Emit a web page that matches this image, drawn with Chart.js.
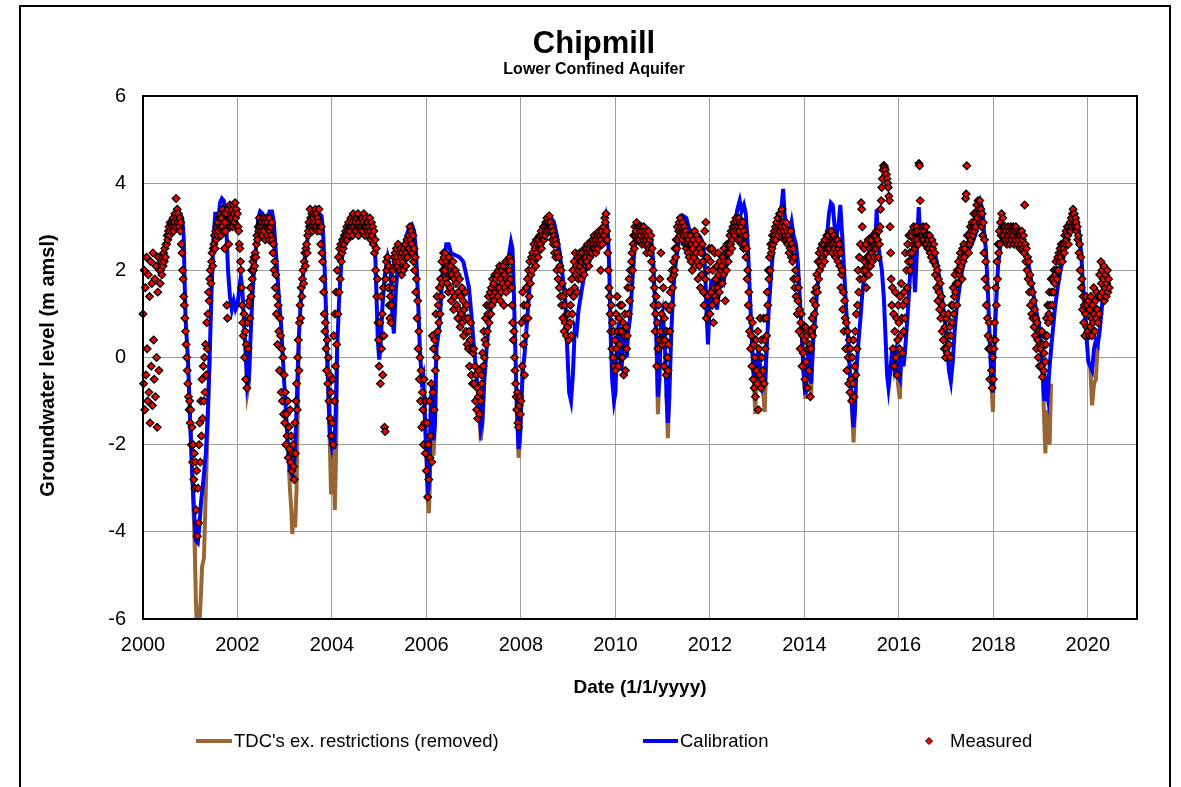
<!DOCTYPE html>
<html><head><meta charset="utf-8">
<script src="https://cdn.jsdelivr.net/npm/chart.js@4.4.1/dist/chart.umd.min.js"></script>
<style>html,body{margin:0;padding:0;background:#fff}#wrap{width:1181px;height:787px}</style>
</head><body><div id="wrap"><canvas id="c" width="1181" height="787"></canvas></div>
<script>
const chartTitle = "Chipmill";
const chartSubtitle = "Lower Confined Aquifer";
const xAxisTitle = "Date (1/1/yyyy)";
const yAxisTitle = "Groundwater level (m amsl)";
const seriesNames = ["TDC's ex. restrictions (removed)", "Calibration", "Measured"];
const xTickYears = [2000,2002,2004,2006,2008,2010,2012,2014,2016,2018,2020];
const yTickValues = [-6,-4,-2,0,2,4,6];

// Calibration (decimal year, m amsl)
const calDates = [
2000.30,2000.40,2000.47,2000.52,2000.58,2000.65,2000.72,2000.78,2000.83,2000.86,2000.88,2000.90,2000.95,
2001.00,2001.04,2001.08,2001.12,2001.16,2001.19,2001.23,2001.28,2001.33,2001.37,2001.41,2001.45,2001.49,2001.53,2001.57,2001.60,2001.63,2001.67,2001.71,2001.74,2001.77,2001.80,2001.84,2001.88,2001.92,2001.96,
2002.00,2002.04,2002.07,2002.10,2002.13,2002.17,2002.21,2002.24,2002.27,2002.31,2002.35,2002.40,2002.44,2002.48,2002.53,2002.58,2002.63,2002.68,2002.73,2002.77,2002.80,2002.84,2002.88,2002.92,2002.96,
2003.00,2003.04,2003.08,2003.12,2003.16,2003.20,2003.23,2003.27,2003.30,2003.34,2003.39,2003.44,2003.48,2003.52,2003.58,2003.65,2003.72,2003.78,2003.81,2003.84,2003.87,2003.90,2003.93,2003.96,2003.99,
2004.02,2004.05,2004.08,2004.11,2004.15,2004.20,2004.26,2004.32,2004.40,2004.50,2004.60,2004.70,2004.80,2004.87,2004.91,2004.94,2004.97,
2005.00,2005.03,2005.07,2005.12,2005.18,2005.24,2005.28,2005.31,2005.35,2005.40,2005.46,2005.52,2005.58,2005.64,2005.69,2005.74,2005.78,2005.82,2005.86,2005.90,2005.93,2005.96,
2006.00,2006.03,2006.06,2006.09,2006.12,2006.15,2006.18,2006.21,2006.25,2006.29,2006.33,2006.37,2006.42,2006.47,2006.52,2006.60,2006.70,2006.78,2006.84,2006.90,2006.95,
2007.00,2007.05,2007.10,2007.15,2007.18,2007.22,2007.28,2007.34,2007.40,2007.46,2007.52,2007.60,2007.68,2007.74,2007.79,2007.82,2007.85,2007.88,2007.91,2007.95,2007.98,
2008.01,2008.04,2008.07,2008.10,2008.14,2008.18,2008.22,2008.28,2008.34,2008.40,2008.46,2008.52,2008.58,2008.64,2008.70,2008.76,2008.82,2008.88,2008.94,2008.98,
2009.02,2009.06,2009.10,2009.14,2009.18,2009.22,2009.28,2009.34,2009.40,2009.48,2009.56,2009.64,2009.70,2009.75,2009.80,2009.84,2009.87,2009.90,2009.93,2009.97,
2010.00,2010.03,2010.07,2010.10,2010.13,2010.16,2010.20,2010.24,2010.27,2010.31,2010.35,2010.39,2010.43,2010.48,2010.55,2010.62,2010.70,2010.76,2010.80,2010.84,2010.87,2010.90,2010.93,2010.97,
2011.00,2011.04,2011.08,2011.11,2011.14,2011.18,2011.22,2011.27,2011.32,2011.38,2011.43,2011.50,2011.56,2011.64,2011.72,2011.80,2011.86,2011.90,2011.93,2011.96,2011.99,
2012.03,2012.07,2012.11,2012.15,2012.20,2012.25,2012.30,2012.35,2012.40,2012.46,2012.52,2012.58,2012.63,2012.67,2012.72,2012.76,2012.80,2012.84,2012.88,2012.92,2012.96,2012.99,
2013.03,2013.07,2013.12,2013.16,2013.20,2013.25,2013.30,2013.36,2013.42,2013.48,2013.52,2013.55,2013.58,2013.63,2013.68,2013.73,2013.77,2013.82,2013.86,2013.90,2013.94,2013.98,
2014.02,2014.06,2014.10,2014.14,2014.18,2014.22,2014.26,2014.30,2014.36,2014.42,2014.48,2014.52,2014.56,2014.60,2014.64,2014.68,2014.72,2014.76,2014.80,2014.84,2014.88,2014.92,2014.96,
2015.00,2015.04,2015.07,2015.10,2015.14,2015.18,2015.22,2015.27,2015.32,2015.38,2015.44,2015.50,2015.53,2015.56,2015.60,2015.64,2015.68,2015.72,2015.75,2015.78,2015.82,2015.86,2015.90,2015.94,2015.98,
2016.02,2016.06,2016.10,2016.14,2016.18,2016.22,2016.26,2016.30,2016.34,2016.38,2016.42,2016.45,2016.50,2016.58,2016.66,2016.74,2016.80,2016.86,2016.92,2016.97,
2017.02,2017.06,2017.10,2017.14,2017.18,2017.22,2017.27,2017.32,2017.38,2017.45,2017.52,2017.58,2017.64,2017.69,2017.73,2017.77,2017.80,2017.84,2017.88,2017.92,2017.96,2017.99,
2018.02,2018.06,2018.10,2018.15,2018.20,2018.28,2018.36,2018.44,2018.52,2018.60,2018.66,2018.72,2018.78,2018.84,2018.90,2018.96,
2019.00,2019.04,2019.08,2019.11,2019.15,2019.19,2019.24,2019.30,2019.36,2019.42,2019.48,2019.54,2019.60,2019.66,2019.72,2019.77,2019.82,2019.86,2019.89,2019.93,2019.97,
2020.01,2020.05,2020.09,2020.13,2020.17,2020.21,2020.25,2020.30,2020.35,2020.40
];
const calLevels = [
2.0,2.3,2.5,2.7,3.05,3.15,3.25,3.3,3.2,2.8,1.8,0.9,0.0,
-1.5,-2.6,-3.5,-4.2,-4.25,-3.9,-3.3,-2.8,-2.2,-1.3,0.0,1.5,2.7,3.3,3.3,3.2,3.55,3.65,3.6,3.4,2.8,2.0,1.4,1.1,1.3,1.1,
1.2,1.6,1.85,1.6,1.0,0.2,-0.65,-0.5,0.3,1.3,2.0,2.6,3.2,3.35,3.3,3.1,3.15,3.35,3.35,3.1,2.6,2.0,1.3,0.8,0.0,
-0.8,-1.5,-2.2,-2.6,-2.7,-2.5,-1.8,-0.5,0.5,1.3,1.9,2.4,2.7,3.1,3.3,3.35,3.3,3.25,2.9,2.2,1.2,0.0,-1.0,-1.8,-2.0,
-1.7,-2.1,-1.2,0.2,1.3,2.2,2.6,2.8,3.0,3.05,3.1,3.1,3.0,2.9,2.6,1.5,0.4,
-0.05,0.3,1.2,1.9,2.3,2.0,0.9,0.55,1.5,2.2,2.3,2.5,2.8,3.0,3.05,2.9,2.4,1.4,0.2,-0.5,-0.4,-1.2,
-2.2,-3.1,-2.8,-1.2,-0.6,-1.9,-1.5,0.2,0.5,1.0,1.8,2.2,2.6,2.6,2.4,2.35,2.3,2.2,1.9,1.6,1.0,
0.3,-0.3,-0.9,-1.65,-1.5,-0.6,0.3,1.0,1.4,1.8,2.0,2.1,2.2,2.3,2.65,2.5,1.5,0.2,-1.0,-2.1,-1.8,
-1.0,-0.3,0.0,0.4,1.0,1.6,1.95,2.1,2.3,2.5,2.7,2.95,3.15,3.2,3.1,2.8,2.4,1.9,1.3,0.2,
-0.8,-1.0,-0.4,0.7,0.6,1.1,1.5,1.9,2.1,2.3,2.5,2.6,2.7,2.9,3.2,2.9,2.0,0.5,-0.5,-1.0,
-0.8,0.3,0.8,0.2,-0.3,0.4,0.8,0.0,0.6,0.9,1.6,2.3,2.8,3.0,2.9,2.85,2.85,2.7,2.2,1.2,0.3,-0.9,-0.5,0.8,
1.0,0.5,-0.8,-1.5,-0.9,0.5,1.5,2.1,2.5,3.0,3.25,3.2,2.95,2.85,2.8,2.75,2.6,2.0,1.0,0.3,1.2,
1.8,1.3,1.8,1.1,1.6,2.0,1.8,2.2,2.4,2.6,3.0,3.4,3.6,3.35,3.5,3.3,2.6,1.6,0.6,-0.3,-0.7,-0.2,
0.2,-0.3,-0.7,-0.6,0.2,1.2,2.0,2.7,2.95,3.1,3.5,3.87,3.3,2.9,2.8,3.1,2.8,2.6,2.2,1.4,0.6,-0.3,
-0.85,-0.2,0.3,-0.6,0.3,0.8,1.4,1.9,2.2,2.5,2.8,3.3,3.55,3.5,3.0,2.8,3.0,3.5,2.8,2.0,1.2,0.5,-0.3,
-1.0,-1.6,-1.2,-0.3,0.3,0.8,1.4,1.9,2.2,2.5,2.7,2.6,3.4,2.6,2.3,2.0,1.4,0.4,-0.4,-0.7,-0.3,0.2,-0.2,0.1,-0.4,
-0.5,0.2,-0.2,0.3,0.9,1.6,2.3,2.5,1.5,2.4,3.45,2.8,2.7,2.65,2.6,2.5,2.2,1.8,1.3,0.9,
0.3,-0.3,-0.55,-0.1,0.6,1.1,1.5,1.9,2.2,2.4,2.55,2.7,2.9,3.3,3.55,3.4,2.9,2.5,1.6,0.5,-0.6,-0.8,
0.2,1.3,2.1,2.6,2.8,2.85,2.8,2.75,2.8,2.75,2.6,2.3,1.9,1.5,1.1,0.8,
0.4,-0.3,-1.0,-0.6,-0.9,-0.2,0.4,1.1,1.6,2.0,2.3,2.6,2.9,3.1,3.25,3.2,2.8,2.4,1.8,1.2,0.5,
-0.1,-0.2,-0.3,0.2,0.4,0.3,0.6,1.2,1.7,1.6
];

// TDC's ex. restrictions (removed): only where it departs from calibration (null = break)
const tdcDates = [
2001.00,2001.04,2001.08,2001.10,2001.12,2001.14,2001.19,2001.22,2001.25,2001.29,2001.32,2001.36,2001.41,2001.42,
2002.17,2002.21,2002.24,2002.27,2002.28,
2003.04,2003.08,2003.11,2003.14,2003.16,2003.19,2003.22,2003.25,2003.28,2003.30,2003.31,
2003.90,2003.93,2003.96,2003.98,2004.00,2004.02,2004.04,2004.06,2004.09,2004.11,2004.12,
2005.96,2006.00,2006.03,2006.05,2006.07,2006.09,2006.12,2006.15,2006.18,2006.21,2006.22,
2007.10,2007.15,2007.18,2007.22,2007.23,
2007.91,2007.95,2007.98,2008.01,2008.02,
2010.87,2010.90,2010.93,2010.94,
2011.08,2011.11,2011.14,2011.15,
2012.92,2012.96,2012.99,2013.00,
2013.12,2013.16,2013.20,2013.21,
2013.98,2014.02,2014.06,2014.07,
2014.10,2014.14,2014.18,2014.19,
2015.00,2015.04,2015.07,2015.08,
2015.94,2015.98,2016.02,2016.06,2016.07,
2017.96,2017.99,2018.02,2018.03,
2019.04,2019.08,2019.10,2019.13,2019.16,2019.19,2019.22,2019.23,
2020.05,2020.09,2020.13,2020.17,2020.21
];
const tdcLevels = [
-1.5,-2.6,-3.8,-4.6,-5.6,-6.2,-6.2,-5.6,-4.8,-4.6,-3.4,-1.9,0.0,null,
0.2,-0.8,-0.6,0.3,null,
-1.5,-2.3,-3.0,-3.5,-4.05,-3.6,-3.9,-3.0,-1.0,0.5,null,
0.0,-1.0,-2.2,-3.1,-2.2,-1.9,-2.6,-3.5,-2.0,0.2,null,
-1.2,-2.3,-3.3,-3.57,-3.0,-1.2,-0.6,-2.25,-1.5,0.2,null,
-0.9,-1.9,-1.6,-0.6,null,
-1.0,-2.3,-1.9,-1.0,null,
0.3,-1.3,-0.5,null,
-0.8,-1.85,-0.9,null,
-0.3,-1.3,-0.2,null,
-0.7,-1.25,0.2,null,
-0.3,-0.95,-0.2,null,
0.3,-0.9,0.3,null,
-1.0,-1.95,-1.2,null,
0.1,-0.6,-0.95,0.2,null,
-0.6,-1.25,0.2,null,
-0.3,-1.6,-2.2,-1.2,-1.5,-2.0,-0.6,null,
-0.2,-1.1,-0.6,-0.5,0.3
];

// Measured: one reading every 1/80 yr from 1/1/2000
const measuredFirstYear = 2000;
const measuredPerYear = 80;
const measured2000 = [1.0,-0.6,2.0,-1.2,1.6,-0.4,2.3,0.2,-1.0,1.9, -0.8,1.4,-1.5,2.2,-0.2,1.7,-1.1,2.4,0.4,-0.5, 1.8,-0.9,2.1,0.0,-1.6,1.5,2.3,-0.3,2.0,1.7, 2.0,2.2,1.9,2.3,2.1,2.4,2.2,2.5,2.3,2.6,
 2.6,2.8,2.7,2.9,3.0,2.8,3.1,2.9,3.05,3.1, 3.0,3.2,2.9,3.1,3.3,3.0,3.65,3.2,3.4,3.1, 3.3,3.0,3.2,2.9,3.1,2.6,2.4,2.0,1.8,1.4, 1.2,0.9,0.6,0.3,0.0,-0.3,-0.6,-0.9,-1.2,-1.0];
const measured2001 = [-1.5,-1.2,-2.0,-1.6,-2.4,-2.0,-2.8,-2.2,-3.0,-2.4, -3.5,-2.6,-4.1,-3.0,-3.8,-2.0,-1.5,-2.4,-1.0,-1.8, -0.5,-1.4,-0.2,-1.0,0.0,-0.8,0.3,-0.4,0.8,0.2, 1.0,1.5,1.3,1.8,2.0,1.7,2.2,2.4,2.1,2.5,
 2.6,2.8,2.5,2.9,2.7,3.0,2.8,3.1,2.9,3.2, 3.0,3.3,2.8,3.2,3.0,3.4,2.9,3.3,2.5,3.1, 2.9,3.3,1.2,0.9,3.4,2.6,3.2,3.5,3.0,3.3, 3.2,3.4,3.0,3.5,3.3,3.1,3.55,3.2,3.4,3.0];
const measured2002 = [3.3,3.0,2.9,2.6,2.5,2.2,2.0,1.6,1.2,0.8, 0.5,1.0,0.0,0.6,-0.5,0.3,-0.7,0.8,0.2,1.2, 1.3,0.9,1.6,1.4,2.0,1.8,2.2,2.0,2.3,2.1, 2.4,2.3,2.6,2.8,2.7,3.0,2.9,3.2,3.0,3.1,
 2.9,3.1,2.8,3.0,3.2,2.9,3.1,2.7,3.0,3.2, 2.8,3.1,3.0,2.7,3.2,2.9,3.0,2.8,3.1,2.7, 2.4,2.6,2.0,2.2,1.6,1.9,1.0,1.4,0.3,1.2, 0.6,-0.3,0.9,0.5,-0.8,0.2,-1.0,0.0,-1.3,-0.4];
const measured2003 = [-1.5,-0.8,-2.0,-1.3,-1.8,-1.0,-2.3,-1.6,-2.1,-1.2, -2.4,-1.8,-2.6,-2.2,-2.0,-2.5,-2.8,-1.5,-2.2,-1.0, -0.6,-1.2,0.0,0.4,-0.3,0.8,1.2,0.9,1.6,1.4, 1.8,2.0,1.7,2.2,2.4,2.1,2.5,2.6,2.4,2.8,
 2.9,3.1,3.0,3.4,3.2,3.0,3.3,2.9,3.2,3.0, 3.3,3.1,3.4,3.0,3.3,2.9,3.2,3.1,3.4,3.0, 2.9,2.6,3.0,2.4,2.2,1.8,1.5,1.0,0.6,0.8, 0.2,-0.3,0.4,-0.6,0.0,-1.0,-0.4,-1.4,-0.8,-1.8];
const measured2004 = [-1.5,-0.5,-2.0,0.5,-1.0,1.0,-0.2,1.5,0.3,2.0, 1.0,2.3,1.5,2.5,1.8,2.6,2.2,2.4,2.7,2.5, 2.6,2.8,2.7,2.9,2.8,3.0,2.7,2.9,3.1,2.8, 3.0,2.9,3.2,3.0,3.1,2.8,3.3,3.0,3.2,2.9,
 3.1,2.9,3.2,3.0,3.3,2.8,3.1,3.0,3.2,2.9, 3.0,3.2,2.9,3.1,3.3,3.0,2.8,3.2,3.0,3.1, 2.9,3.1,2.8,3.0,3.2,2.9,2.7,3.1,2.8,3.0, 2.6,2.9,2.4,2.7,2.0,2.5,1.4,1.8,0.8,0.4];
const measured2005 = [-0.2,0.8,-0.6,1.4,0.2,1.0,-0.4,1.6,0.5,-1.6, -1.7,1.8,2.2,2.0,2.3,1.6,2.1,1.2,0.9,1.4, 0.8,1.2,1.6,2.0,1.8,2.3,2.1,2.4,2.2,2.5, 2.3,2.1,2.6,2.2,2.4,2.0,2.5,2.3,1.9,2.4,
 2.2,2.0,2.5,2.3,2.6,2.1,2.4,2.7,2.3,2.5, 2.8,2.5,3.0,2.7,2.9,2.6,2.4,2.8,2.2,2.5, 2.0,2.3,1.5,1.8,0.9,1.3,0.2,0.6,-0.5,0.0, -1.0,-0.3,-1.6,-0.8,-1.2,-2.0,-0.5,-1.5,-2.2,-1.0];
const measured2006 = [-2.6,-1.5,-3.2,-2.0,-2.8,-1.0,-2.3,-1.8,-0.6,-2.4, 0.5,-0.8,0.2,-1.2,0.4,-0.3,1.0,0.0,1.4,0.6, 1.2,0.8,1.6,1.0,1.8,1.4,2.2,1.7,2.0,2.4, 2.3,2.0,2.4,1.8,2.2,1.7,2.1,1.5,2.3,1.9,
 1.6,2.1,1.3,1.9,1.5,2.2,1.1,1.8,1.4,2.0, 1.7,1.2,1.9,0.9,1.5,1.1,1.8,0.7,1.4,1.0, 1.6,0.8,1.3,0.5,1.1,0.9,1.5,0.6,1.2,0.3, 0.9,0.2,0.6,-0.2,0.4,0.8,-0.4,0.2,-0.6,0.1];
const measured2007 = [0.2,-0.6,-0.2,-1.0,-0.4,-1.2,-0.7,-1.4,-0.9,-0.3, -1.3,-0.8,-1.0,-0.4,-0.6,0.1,-0.2,0.6,0.0,0.4, 0.9,0.3,1.2,0.6,1.0,1.4,0.8,1.2,1.5,1.0, 1.6,1.2,1.8,1.4,1.7,1.3,1.9,1.5,1.8,1.6,
 1.9,1.4,2.0,1.6,2.1,1.3,1.8,1.5,2.0,1.7, 2.1,1.2,1.9,1.6,2.2,1.5,1.8,2.0,1.7,2.2, 2.0,2.3,1.8,2.2,1.6,1.2,0.8,0.4,0.6,0.0, -0.3,-0.6,-0.9,-1.2,-0.8,-1.5,-1.6,-1.1,-0.9,-1.3];
const measured2008 = [-1.0,0.8,-0.2,1.5,0.3,1.2,-0.4,0.9,0.5,1.6, 1.2,1.8,0.9,2.0,1.4,2.2,1.7,1.9,2.3,2.0, 2.4,2.2,2.6,2.3,2.5,2.1,2.7,2.4,2.6,2.3, 2.7,2.5,2.8,2.6,2.9,2.5,2.8,2.7,3.0,2.7,
 3.0,2.8,3.1,2.9,3.2,3.0,3.1,2.9,3.25,3.0, 3.1,2.9,3.0,2.7,2.9,2.6,2.8,2.4,2.7,2.3, 2.6,2.0,2.4,1.8,2.3,1.6,2.1,1.4,2.0,1.2, 1.7,0.9,1.4,0.6,1.2,0.8,1.5,0.5,1.0,0.7];
const measured2009 = [1.0,0.4,1.5,0.8,1.2,0.5,1.8,1.0,2.0,1.4, 2.2,1.6,2.4,1.9,2.1,1.5,2.3,1.8,2.0,2.4, 2.1,2.3,1.8,2.2,2.4,2.0,2.3,1.9,2.5,2.2, 2.3,2.5,2.2,2.6,2.4,2.1,2.5,2.3,2.6,2.4,
 2.4,2.7,2.5,2.6,2.8,2.5,2.7,2.4,2.6,2.8, 2.5,2.7,2.9,2.6,2.8,2.0,2.7,2.9,2.6,2.8, 3.0,2.8,3.2,3.1,3.3,2.9,2.7,2.4,2.0,1.6, 1.4,1.0,0.6,1.2,0.2,0.8,0.0,0.6,-0.2,0.4];
const measured2010 = [-0.3,1.0,0.2,1.4,0.6,-0.2,0.9,0.3,1.2,0.0, 0.6,1.2,0.0,0.8,-0.4,0.5,1.0,-0.3,0.7,0.2, 0.5,1.6,1.0,1.8,1.3,2.0,1.6,2.2,2.4,2.0, 2.6,2.8,2.5,3.0,2.8,2.9,3.1,2.7,3.0,2.8,
 3.0,2.7,2.9,2.8,3.0,2.6,2.9,2.7,3.0,2.8, 2.6,2.9,2.7,2.4,2.8,2.6,2.9,2.5,2.7,2.4, 2.8,2.2,2.5,1.8,2.0,1.2,1.6,0.6,1.0,1.4, -0.2,0.8,0.2,1.2,0.4,1.8,0.6,2.4,1.0,0.3];
const measured2011 = [0.4,1.6,-0.2,0.9,0.4,1.2,-0.4,0.6,0.0,-0.3, 0.3,1.1,0.6,1.5,1.8,1.2,2.0,1.6,2.2,1.9, 2.0,2.5,2.3,2.7,2.5,3.0,2.7,2.9,3.1,2.8, 3.2,2.9,3.0,2.7,3.1,2.9,2.8,3.0,2.6,2.9,
 2.5,2.8,2.6,2.4,2.7,2.3,2.6,2.8,2.2,2.6, 2.0,2.5,2.7,2.3,2.9,2.1,2.6,2.4,2.8,2.2, 1.8,2.7,2.1,2.5,1.6,2.4,1.9,2.6,2.2,1.5, 1.2,2.9,1.8,3.1,0.9,2.3,1.4,2.0,1.0,2.5];
const measured2012 = [1.0,2.2,1.5,2.5,1.2,2.0,0.8,1.6,2.4,1.4, 1.8,1.3,2.1,1.6,2.4,1.9,1.5,2.2,1.7,2.0, 2.1,1.7,2.3,1.9,2.5,2.2,1.3,2.4,2.0,2.6, 2.4,2.2,2.6,2.4,2.8,2.6,2.9,2.5,2.7,3.0,
 2.9,3.1,2.8,3.0,3.2,2.9,3.1,2.7,3.0,3.2, 2.9,3.1,2.7,3.0,2.6,2.8,3.1,2.5,2.9,2.6, 2.8,2.3,2.5,1.8,2.0,1.2,1.5,0.6,0.9,0.2, 0.5,-0.2,0.8,-0.5,0.3,-0.7,0.0,-0.9,0.4,-0.3];
const measured2013 = [-0.6,0.6,-1.2,0.2,-0.4,0.9,-0.7,0.4,0.0,-0.5, -0.3,0.9,-0.6,0.4,0.2,0.9,0.5,1.5,1.2,2.0, 1.8,2.3,2.0,2.6,2.4,2.5,2.8,2.6,2.7,2.9, 2.8,3.0,2.7,3.1,2.9,3.2,2.8,3.0,3.3,2.9,
 3.3,3.0,3.4,2.8,3.1,2.9,2.7,3.0,2.8,3.1, 2.7,2.9,2.6,2.8,2.4,2.7,2.5,2.9,2.3,2.6, 2.2,2.5,1.8,2.3,1.6,2.0,1.4,1.8,1.0,1.3, 1.6,0.6,1.1,0.2,0.8,1.0,-0.2,0.5,0.1,0.7];
const measured2014 = [0.4,-0.5,0.7,-0.1,0.5,-0.7,0.2,0.6,-0.3,0.3, -0.9,0.2,0.6,0.9,0.5,1.3,0.7,1.0,1.5,1.2, 1.6,1.9,1.5,2.2,1.8,2.4,2.0,2.2,2.5,2.1, 2.6,2.3,2.4,2.6,2.2,2.7,2.5,2.4,2.8,2.5,
 2.8,2.6,2.9,2.5,2.7,2.6,2.9,2.4,2.7,2.6, 2.8,2.5,2.7,2.3,2.6,2.4,2.7,2.2,2.5,2.6, 2.1,2.4,1.6,1.9,2.0,1.1,1.5,0.6,1.3,0.9, 0.2,0.8,-0.3,0.6,0.0,-0.6,0.4,-0.8,0.2,-0.5];
const measured2015 = [-1.0,0.0,-0.6,0.4,-0.9,-0.2,0.6,-0.4,1.0,0.2, 1.2,2.0,1.5,2.3,1.8,2.6,3.55,3.4,3.0,2.0, 1.8,2.5,2.2,2.0,2.6,1.6,2.3,2.1,2.7,1.9, 2.3,2.5,2.1,2.7,2.4,2.2,2.8,2.5,2.3,2.6,
 2.8,2.5,2.9,2.6,2.7,2.3,2.9,2.6,3.0,3.4, 3.6,3.9,4.1,4.3,4.4,4.4,4.35,4.3,4.2,4.2, 4.1,4.0,3.9,3.7,3.6,3.0,2.4,1.8,1.2,1.6, 0.2,1.0,-0.2,0.6,1.5,0.0,0.9,-0.4,0.4,1.2];
const measured2016 = [0.8,0.2,1.4,0.5,1.7,0.9,0.1,1.2,0.6,1.5, 0.9,2.4,1.3,2.0,1.6,2.6,2.2,2.8,2.4,2.0, 2.2,2.8,2.4,2.9,2.6,3.0,2.7,2.5,2.9,2.6, 3.0,2.7,2.9,2.6,4.45,4.4,3.6,2.8,2.9,2.7,
 2.8,3.0,2.7,2.9,2.6,2.8,3.0,2.6,2.8,2.5, 2.7,2.5,2.8,2.4,2.6,2.3,2.7,2.5,2.2,2.6, 2.2,2.4,1.9,2.1,1.6,2.0,1.3,1.8,1.5,1.1, 1.7,0.9,1.4,0.6,1.2,0.4,1.0,0.2,0.7,0.0];
const measured2017 = [0.2,0.9,0.1,0.5,1.0,0.3,0.7,0.0,0.5,1.2, 0.8,1.2,1.6,1.0,1.4,1.9,1.5,1.7,1.2,2.0, 1.7,2.2,1.9,2.0,2.4,2.1,2.3,1.8,2.5,2.2, 2.6,2.3,2.5,3.65,3.75,4.4,2.8,2.6,2.4,2.8,
 2.6,3.0,2.7,2.9,3.1,2.8,3.0,3.3,2.9,3.1, 3.0,3.3,3.5,3.2,3.6,3.4,3.3,3.6,3.1,3.4, 3.0,3.3,2.8,3.1,2.4,2.7,1.8,2.2,1.2,1.6, 0.9,0.5,0.2,0.8,-0.5,0.2,0.4,-0.3,-0.7,0.0];
const measured2018 = [-0.5,0.2,0.8,0.4,1.6,1.2,2.2,1.8,2.6,2.4, 2.9,2.6,3.1,2.8,3.3,3.0,3.2,2.8,3.0,2.7, 3.0,2.7,2.9,2.6,2.8,3.0,2.7,2.9,2.6,2.8, 3.0,2.7,2.9,2.8,3.0,2.6,2.9,2.7,3.0,2.8,
 2.9,2.6,2.8,2.7,2.9,2.5,2.8,2.6,2.9,2.7, 2.5,2.8,2.4,3.5,2.6,2.2,2.5,2.0,2.3,1.8, 2.2,1.5,1.9,1.2,1.7,1.0,1.5,0.9,1.3,0.7, 1.1,0.5,0.9,0.2,0.8,0.4,0.0,0.6,-0.2,0.3];
const measured2019 = [0.2,-0.2,0.6,-0.45,0.3,-0.3,0.1,0.5,-0.1,0.3, 0.9,0.5,1.2,0.8,1.0,1.5,1.2,0.9,1.8,1.5, 1.2,1.8,1.5,2.0,1.7,1.9,2.2,2.0,1.8,2.3, 2.0,2.4,2.2,2.5,2.3,2.6,2.4,2.2,2.6,2.5,
 2.4,2.8,2.6,2.9,2.7,3.0,2.8,2.6,3.0,2.9, 3.1,2.9,3.2,3.0,3.3,3.4,3.1,3.3,3.0,3.2, 3.1,2.9,3.0,2.7,2.8,2.4,2.6,2.0,2.3,1.6, 1.8,1.1,1.4,0.8,1.2,0.5,1.0,1.4,0.7,1.2];
const measured2020 = [0.6,1.3,0.5,1.1,0.7,1.4,0.9,0.5,1.2,0.8, 1.6,1.0,0.6,1.3,0.9,1.5,1.1,0.8,1.4,1.0, 1.9,1.4,2.2,1.7,2.0,1.5,1.8,2.1,1.3,1.6, 1.9,1.4,1.7,2.0,1.5,1.8,1.6];

const measuredYears = [measured2000,measured2001,measured2002,measured2003,measured2004,measured2005,measured2006,
  measured2007,measured2008,measured2009,measured2010,measured2011,measured2012,measured2013,measured2014,
  measured2015,measured2016,measured2017,measured2018,measured2019,measured2020];

const measuredPoints = [];
measuredYears.forEach((vals, yi) => vals.forEach((v, i) => measuredPoints.push({x: measuredFirstYear + yi + i / measuredPerYear, y: v})));
const calPoints = calDates.map((d, i) => ({x: d, y: calLevels[i]}));
const tdcPoints = tdcDates.map((d, i) => ({x: d, y: tdcLevels[i]}));

const FONT = '"Liberation Sans", Arial, Helvetica, sans-serif';
const BROWN = '#996633', BLUE = '#0000FF', RED = '#FF0000';

const decor = {
  id: 'decor',
  beforeDraw(chart) {
    const ctx = chart.ctx; ctx.save(); ctx.fillStyle = '#fff'; ctx.fillRect(0, 0, chart.width, chart.height); ctx.restore();
  },
  afterDraw(chart) {
    const ctx = chart.ctx, a = chart.chartArea;
    ctx.save();
    ctx.strokeStyle = '#000'; ctx.lineWidth = 2;
    ctx.strokeRect(a.left, a.top, a.right - a.left, a.bottom - a.top);
    ctx.strokeRect(20, 6, 1150, 800);
    ctx.fillStyle = '#000'; ctx.textAlign = 'center'; ctx.textBaseline = 'alphabetic';
    ctx.font = 'bold 31px ' + FONT; ctx.fillText(chartTitle, 594, 53);
    ctx.font = 'bold 16px ' + FONT; ctx.fillText(chartSubtitle, 594, 74);
    ctx.font = 'bold 19px ' + FONT; ctx.textBaseline = 'middle';
    ctx.fillText(xAxisTitle, (a.left + a.right) / 2, 688);
    ctx.font = 'bold 20px ' + FONT;
    ctx.save(); ctx.translate(48, (a.top + a.bottom) / 2 + 8); ctx.rotate(-Math.PI / 2); ctx.fillText(yAxisTitle, 0, 0); ctx.restore();
    // legend
    const ly = 741;
    ctx.lineWidth = 4;
    ctx.strokeStyle = BROWN; ctx.beginPath(); ctx.moveTo(196, ly); ctx.lineTo(232, ly); ctx.stroke();
    ctx.strokeStyle = BLUE; ctx.beginPath(); ctx.moveTo(643, ly); ctx.lineTo(678, ly); ctx.stroke();
    ctx.lineWidth = 1; ctx.strokeStyle = '#000'; ctx.fillStyle = RED;
    ctx.beginPath(); ctx.moveTo(929, ly - 3.5); ctx.lineTo(932.5, ly); ctx.lineTo(929, ly + 3.5); ctx.lineTo(925.5, ly); ctx.closePath(); ctx.fill(); ctx.stroke();
    ctx.fillStyle = '#000'; ctx.textAlign = 'left'; ctx.font = '18.5px ' + FONT;
    ctx.fillText(seriesNames[0], 234, ly + 1);
    ctx.fillText(seriesNames[1], 680, ly + 1);
    ctx.fillText(seriesNames[2], 950, ly + 1);
    ctx.restore();
  }
};

new Chart(document.getElementById('c'), {
  type: 'line',
  data: {
    datasets: [
      { label: seriesNames[0], data: tdcPoints, borderColor: BROWN, borderWidth: 4, pointRadius: 0, tension: 0, spanGaps: false, order: 3, clip: 0 },
      { label: seriesNames[1], data: calPoints, borderColor: BLUE, borderWidth: 4, pointRadius: 0, tension: 0, order: 2, clip: 0 },
      { label: seriesNames[2], data: measuredPoints, showLine: false, pointStyle: 'rectRot', pointRadius: 3.8, pointBorderWidth: 1.3,
        pointBackgroundColor: RED, pointBorderColor: '#000', order: 1, clip: 5 }
    ]
  },
  options: {
    responsive: false, animation: false, devicePixelRatio: 1,
    layout: { padding: { left: 0, right: 44, top: 96, bottom: 0 } },
    plugins: { legend: { display: false }, title: { display: false }, tooltip: { enabled: false } },
    scales: {
      x: {
        type: 'linear', min: 2000, max: 2021.04,
        afterBuildTicks: s => { s.ticks = xTickYears.map(v => ({ value: v })); },
        afterFit: s => { s.height = 168; },
        ticks: { autoSkip: false, maxRotation: 0, padding: 14, color: '#000', font: { size: 20, family: FONT }, callback: v => String(v) },
        grid: { color: '#A0A0A0', lineWidth: 1, drawTicks: false },
        border: { display: false }
      },
      y: {
        min: -6, max: 6,
        afterBuildTicks: s => { s.ticks = yTickValues.map(v => ({ value: v })); },
        afterFit: s => { s.width = 143; },
        ticks: { padding: 17, color: '#000', font: { size: 20, family: FONT }, callback: v => String(v) },
        grid: { color: '#A0A0A0', lineWidth: 1, drawTicks: false },
        border: { display: false }
      }
    }
  },
  plugins: [decor]
});
</script>
</body></html>
